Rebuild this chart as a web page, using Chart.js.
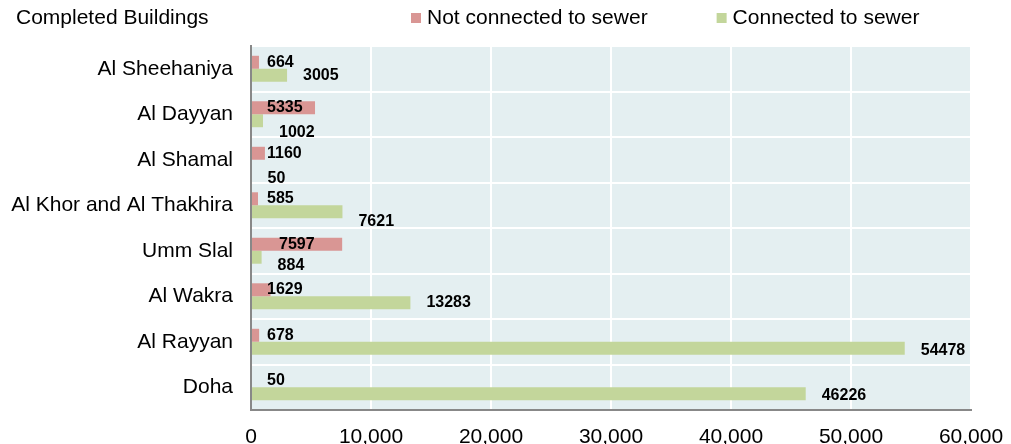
<!DOCTYPE html>
<html>
<head>
<meta charset="utf-8">
<title>Completed Buildings</title>
<script src="https://cdn.jsdelivr.net/npm/chart.js@4/dist/chart.umd.min.js"></script>
<style>
  html, body { margin: 0; padding: 0; background: #ffffff; }
  #c { display: block; }
</style>
</head>
<body>
<canvas id="c" width="1011" height="444"></canvas>
<script>
// Municipalities, top to bottom
const categories = ['Al Sheehaniya', 'Al Dayyan', 'Al Shamal', 'Al Khor and Al Thakhira',
                    'Umm Slal', 'Al Wakra', 'Al Rayyan', 'Doha'];
// Number of completed buildings per municipality
const notConnected = [664, 5335, 1160, 585, 7597, 1629, 678, 50];
const connected    = [3005, 1002, 50, 7621, 884, 13283, 54478, 46226];
const seriesNames  = ['Not connected to sewer', 'Connected to sewer'];
const xTickValues  = [0, 10000, 20000, 30000, 40000, 50000, 60000];
const chartTitle   = 'Completed Buildings';

const FONT = '"Liberation Sans", Arial, Helvetica, sans-serif';
const PINK = '#d99694';
const GREEN = '#c3d69b';

// Light tinted panel behind the bars
const plotBackground = {
  id: 'plotBackground',
  beforeDraw(chart, args, opts) {
    const a = chart.chartArea, ctx = chart.ctx;
    ctx.save();
    ctx.fillStyle = opts.color;
    ctx.fillRect(a.left, a.top, a.right - a.left, a.bottom - a.top);
    ctx.restore();
  }
};

// Title on the left, series keys on the right of the top strip
const header = {
  id: 'header',
  afterDraw(chart, args, opts) {
    const ctx = chart.ctx;
    ctx.save();
    ctx.font = '21px ' + FONT;
    ctx.fillStyle = '#000';
    ctx.textAlign = 'left';
    ctx.textBaseline = 'middle';
    ctx.fillText(opts.title, opts.titleX, opts.y);
    let x = opts.legendX;
    chart.data.datasets.forEach(ds => {
      ctx.fillStyle = ds.backgroundColor;
      ctx.fillRect(x, opts.y - opts.box / 2, opts.box, opts.box);
      ctx.fillStyle = '#000';
      const tx = x + opts.box + opts.textGap;
      ctx.fillText(ds.label, tx, opts.y);
      x = tx + ctx.measureText(ds.label).width + opts.itemGap;
    });
    ctx.restore();
  }
};

// Value labels beside each bar
const valueLabels = {
  id: 'valueLabels',
  afterDatasetsDraw(chart, args, opts) {
    const ctx = chart.ctx;
    const x0 = chart.scales.x.getPixelForValue(0);
    ctx.save();
    ctx.font = 'bold 16px ' + FONT;
    ctx.fillStyle = '#000';
    ctx.textAlign = 'left';
    ctx.textBaseline = 'middle';
    chart.data.datasets.forEach((ds, di) => {
      const cfg = opts.series[di];
      chart.getDatasetMeta(di).data.forEach((bar, i) => {
        const from = cfg.anchor === 'base' ? x0 : bar.x;
        const x = from + cfg.offset + (cfg.dx ? cfg.dx[i] : 0);
        const y = bar.y + (cfg.dy ? cfg.dy[i] : 0);
        ctx.fillText(String(ds.data[i]), x, y);
      });
    });
    ctx.restore();
  }
};

Chart.defaults.font.family = FONT;
Chart.defaults.font.size = 21;
Chart.defaults.color = '#000';

new Chart(document.getElementById('c'), {
  type: 'bar',
  data: {
    labels: categories,
    datasets: [
      { label: seriesNames[0], data: notConnected, backgroundColor: PINK,
        categoryPercentage: 0.57, barPercentage: 1.0 },
      { label: seriesNames[1], data: connected, backgroundColor: GREEN,
        categoryPercentage: 0.57, barPercentage: 1.0 }
    ]
  },
  options: {
    indexAxis: 'y',
    responsive: false,
    animation: false,
    devicePixelRatio: 1,
    layout: { padding: { top: 46, right: 40, bottom: 0, left: 0 } },
    scales: {
      x: {
        min: xTickValues[0],
        max: xTickValues[xTickValues.length - 1],
        afterBuildTicks(scale) { scale.ticks = xTickValues.map(v => ({ value: v })); },
        afterFit(scale) {
          scale.height = 34;
          scale.paddingLeft = 0;
          scale.paddingRight = 0;
        },
        grid: { color: '#ffffff', lineWidth: 2, drawTicks: false },
        border: { display: true, color: '#888888', width: 2, z: 1 },
        ticks: {
          padding: 15,
          font: { size: 21 },
          color: '#000',
          maxRotation: 0,
          callback: v => Number(v).toLocaleString('en-US')
        }
      },
      y: {
        afterFit(scale) { scale.width = 251; },
        grid: {
          lineWidth: 2,
          drawTicks: false,
          color: ctx => ctx.type === 'scale' ? 'rgba(0,0,0,0)' : '#ffffff'
        },
        border: { display: true, color: '#888888', width: 2, z: 1 },
        ticks: { padding: 18, font: { size: 21 }, color: '#000' }
      }
    },
    plugins: {
      legend: { display: false },
      tooltip: { enabled: false },
      plotBackground: { color: '#e4eff1' },
      header: { title: chartTitle, titleX: 16, y: 18, legendX: 411, box: 10, textGap: 6, itemGap: 69 },
      valueLabels: {
        series: [
          { anchor: 'base', offset: 16, dx: [0, 0, 0, 0, 12, 0, 0, 0] },
          { anchor: 'end', offset: 16, dy: [0, 12, 12, 10, 8, 0, 2, 2] }
        ]
      }
    }
  },
  plugins: [plotBackground, header, valueLabels]
});
</script>
</body>
</html>
